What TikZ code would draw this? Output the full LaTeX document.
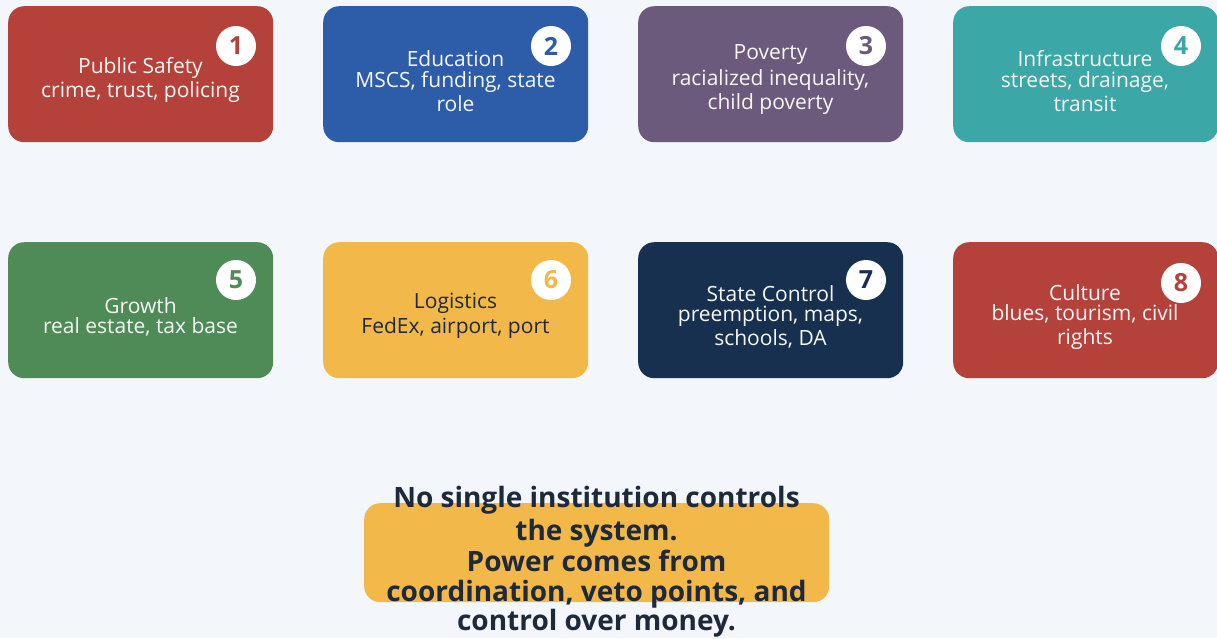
\documentclass[tikz,border=0pt]{standalone}
\usepackage{fontspec}
\setmainfont{Open Sans}
\definecolor{bg}{HTML}{F3F6FB}
\definecolor{cred}{HTML}{B5413B}
\definecolor{cblue}{HTML}{2D5DA9}
\definecolor{cpurple}{HTML}{6B5A7B}
\definecolor{cteal}{HTML}{3BA7A6}
\definecolor{cgreen}{HTML}{4F8B57}
\definecolor{cyellow}{HTML}{F2B84A}
\definecolor{cnavy}{HTML}{173050}
\definecolor{ctext}{HTML}{1E2939}
\tikzset{
  card/.style={fill=#1, rounded corners=16pt, minimum width=265pt, minimum height=136pt, inner sep=0pt, draw=none},
  badge/.style={circle, fill=white, minimum size=40pt, inner sep=0pt, text=#1, font=\fontsize{25}{25}\selectfont\bfseries},
  ttl/.style={text=white!94!gray, font=\fontsize{21}{23}\selectfont, align=center},
  sub/.style={text=white!94!gray, font=\fontsize{21}{24.5}\selectfont, align=center},
}
\begin{document}
\begin{tikzpicture}[x=1pt,y=-1pt]
\fill[bg] (0,0) rectangle (1217,638);
\useasboundingbox (0,0) rectangle (1217,638);
% row 1
\node[card=cred, anchor=north west] (c1) at (8,6) {};
\node[badge=cred] (b1) at (236,46) {1};
\node[ttl] (t1) at (140.5,67.5) {Public Safety};
\node[sub] (s1) at (140.5,92.5) {crime, trust, policing};
\node[card=cblue, anchor=north west] (c2) at (323,6) {};
\node[badge=cblue] (b2) at (551,46) {2};
\node[ttl] (t2) at (455.5,59) {Education};
\node[sub] (s2) at (455.5,91.5) {MSCS, funding, state\\role};
\node[card=cpurple, anchor=north west] (c3) at (638,6) {};
\node[badge=cpurple] (b3) at (866,46) {3};
\node[ttl] (t3) at (770.5,54.5) {Poverty};
\node[sub] (s3) at (770.5,92) {racialized inequality,\\child poverty};
\node[card=cteal, anchor=north west] (c4) at (953,6) {};
\node[badge=cteal] (b4) at (1181,46) {4};
\node[ttl] (t4) at (1085,59) {Infrastructure};
\node[sub] (s4) at (1085,91.5) {streets, drainage,\\transit};
% row 2
\node[card=cgreen, anchor=north west] (c5) at (8,242) {};
\node[badge=cgreen] (b5) at (236,280) {5};
\node[ttl] (t5) at (140.5,306) {Growth};
\node[sub] (s5) at (140.5,327) {real estate, tax base};
\node[card=cyellow, anchor=north west] (c6) at (323,242) {};
\node[badge=cyellow] (b6) at (551,280) {6};
\node[ttl, text=ctext] (t6) at (455.5,303) {Logistics};
\node[sub, text=ctext] (s6) at (455.5,328) {FedEx, airport, port};
\node[card=cnavy, anchor=north west] (c7) at (638,242) {};
\node[badge=cnavy] (b7) at (866,280) {7};
\node[ttl] (t7) at (770.5,294) {State Control};
\node[sub] (s7) at (770.5,327) {preemption, maps,\\schools, DA};
\node[card=cred, anchor=north west] (c8) at (953,242) {};
\node[badge=cred] (b8) at (1181,283) {8};
\node[ttl] (t8) at (1085,293) {Culture};
\node[sub] (s8) at (1085,327) {blues, tourism, civil\\rights};
% bottom
\node[fill=cyellow, rounded corners=16pt, minimum width=465pt, minimum height=99pt, inner sep=0pt, anchor=north west] (bot) at (364,503) {};
\node[text=ctext, font=\fontsize{28}{33}\selectfont\bfseries, align=center] (bt1) at (596.5,517) {No single institution controls\\the system.};
\node[text=ctext, font=\fontsize{28}{29.5}\selectfont\bfseries, align=center] (bt2) at (596.5,594) {Power comes from\\coordination, veto points, and\\control over money.};
\end{tikzpicture}
\end{document}
